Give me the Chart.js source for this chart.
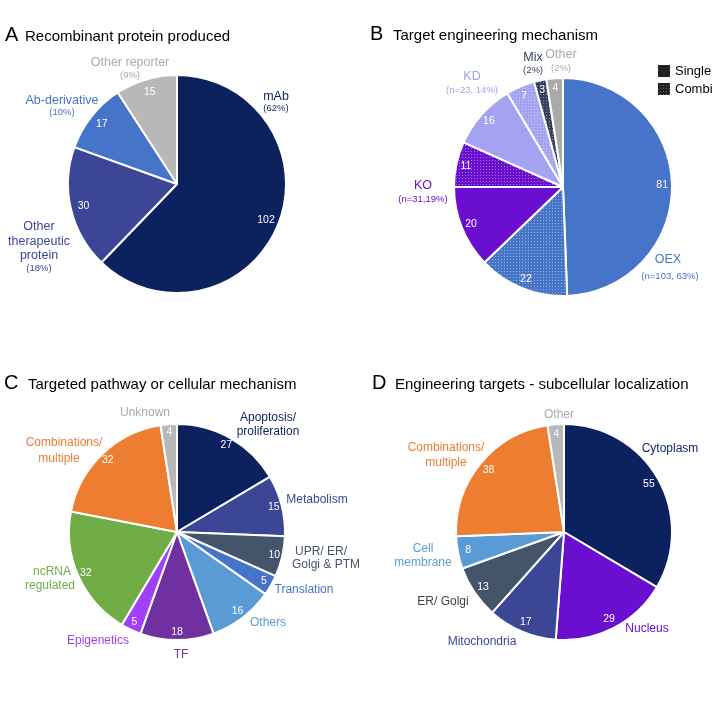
<!DOCTYPE html>
<html><head><meta charset="utf-8">
<script src="https://cdn.jsdelivr.net/npm/chart.js@4.4.1/dist/chart.umd.min.js"></script>
<style>
html,body{margin:0;padding:0;width:718px;height:718px;overflow:hidden;background:#fff;}
.q{position:absolute;width:359px;height:359px;}
</style></head><body>
<div class="q" style="left:0;top:0"><canvas id="cA" width="359" height="359"></canvas></div>
<div class="q" style="left:359px;top:0"><canvas id="cB" width="359" height="359"></canvas></div>
<div class="q" style="left:0;top:359px"><canvas id="cC" width="359" height="359"></canvas></div>
<div class="q" style="left:359px;top:359px"><canvas id="cD" width="359" height="359"></canvas></div>
<script>
// ---------------- DATA ----------------
const catA = ["mAb","Other therapeutic protein","Ab-derivative","Other reporter"];
const valA = [102,30,17,15];
const textA = [["mAb","(62%)"],["Other","therapeutic","protein","(18%)"],["Ab-derivative","(10%)"],["Other reporter","(9%)"]];

const catB = ["OEX","OEX","KO","KO","KD","KD","Mix","Other"];
const typeB = ["Single","Combi","Single","Combi","Single","Combi","Combi","Single"];
const valB = [81,22,20,11,16,7,3,4];
const textB = [["OEX","(n=103, 63%)"],["KO","(n=31,19%)"],["KD","(n=23, 14%)"],["Mix","(2%)"],["Other","(2%)"]];
const legendB = ["Single","Combi"];

const catC = ["Apoptosis/ proliferation","Metabolism","UPR/ ER/ Golgi & PTM","Translation","Others","TF","Epigenetics","ncRNA regulated","Combinations/ multiple","Unknown"];
const valC = [27,15,10,5,16,18,5,32,32,4];
const textC = [["Apoptosis/","proliferation"],["Metabolism"],["UPR/ ER/","Golgi & PTM"],["Translation"],["Others"],["TF"],["Epigenetics"],["ncRNA","regulated"],["Combinations/","multiple"],["Unknown"]];

const catD = ["Cytoplasm","Nucleus","Mitochondria","ER/ Golgi","Cell membrane","Combinations/ multiple","Other"];
const valD = [55,29,17,13,8,38,4];
const textD = [["Cytoplasm"],["Nucleus"],["Mitochondria"],["ER/ Golgi"],["Cell","membrane"],["Combinations/","multiple"],["Other"]];

const titles = [["A","Recombinant protein produced"],["B","Target engineering mechanism"],["C","Targeted pathway or cellular mechanism"],["D","Engineering targets - subcellular localization"]];

// ---------------- STYLE / LAYOUT ----------------
const FONT = '"Liberation Sans", Arial, Helvetica, sans-serif';
const NAVY="#0b225e", INDIGO="#3b4697", BLUE="#4674c9", LBLUE="#5b9bd5", SLATE="#44546a", GRAY="#b8b8b8",
      PURPLE="#6a0fcf", TFP="#7030a0", VIOLET="#a040f8", GREEN="#70ad47", ORANGE="#ed7d31", LAV="#a3a3f2", MIX="#33405c";

function dots(color, dot){
  const c=document.createElement('canvas'); c.width=3; c.height=3;
  const x=c.getContext('2d'); x.fillStyle=color; x.fillRect(0,0,3,3);
  x.fillStyle=dot||'rgba(255,255,255,0.42)'; x.fillRect(1,1,1,1);
  return x.createPattern(c,'repeat');
}

const colA = [NAVY,INDIGO,BLUE,GRAY];
const baseB = {OEX:BLUE,KO:PURPLE,KD:LAV,Mix:MIX,Other:"#aaaaaa"};
const colB = catB.map((c,i)=> typeB[i]==="Combi" ? dots(baseB[c]) : baseB[c]);
const colC = [NAVY,INDIGO,SLATE,BLUE,LBLUE,TFP,VIOLET,GREEN,ORANGE,GRAY];
const colD = [NAVY,PURPLE,INDIGO,SLATE,LBLUE,ORANGE,GRAY];

const M=12.5, P=9.5, L=12;
const layA = [
  {dx:[99,99],dy:[-87,-76],s:[M,P],c:NAVY},
  {dx:[-138,-138,-138,-138],dy:[43,57.5,72,84.5],s:[M,M,M,P],c:INDIGO},
  {dx:[-115,-115],dy:[-83,-71.5],s:[M,P],c:BLUE},
  {dx:[-47,-47],dy:[-121,-109],s:[M,P],c:"#aaaaaa"}
];
const layB = [
  {dx:[105,107],dy:[73,89],s:[M,P],c:BLUE},
  {dx:[-140,-140],dy:[-1.5,12],s:[M,P],c:PURPLE},
  {dx:[-91,-91],dy:[-110,-97],s:[M,P],c:"#a0a0ee"},
  {dx:[-30,-30],dy:[-129,-116.5],s:[M,P],c:MIX},
  {dx:[-2,-2],dy:[-132,-119],s:[M,P],c:"#aaaaaa"}
];
const layC = [
  {dx:[91,91],dy:[-114,-100.5],s:[L,L],c:NAVY},
  {dx:[140],dy:[-32],s:[L],c:INDIGO},
  {dx:[144,149],dy:[19.5,33],s:[L,L],c:SLATE},
  {dx:[127],dy:[58],s:[L],c:BLUE},
  {dx:[91],dy:[91],s:[L],c:LBLUE},
  {dx:[4],dy:[123],s:[L],c:TFP},
  {dx:[-79],dy:[109],s:[L],c:VIOLET},
  {dx:[-125,-127],dy:[40,54],s:[L,L],c:GREEN},
  {dx:[-113,-118],dy:[-89,-73],s:[L,L],c:ORANGE},
  {dx:[-32],dy:[-119],s:[L],c:"#a8a8a8"}
];
const layD = [
  {dx:[106],dy:[-83],s:[L],c:NAVY},
  {dx:[83],dy:[97],s:[L],c:PURPLE},
  {dx:[-82],dy:[110],s:[L],c:INDIGO},
  {dx:[-121],dy:[70],s:[L],c:"#3c3f4a"},
  {dx:[-141,-141],dy:[17,31],s:[L,L],c:LBLUE},
  {dx:[-118,-118],dy:[-84,-69],s:[L,L],c:ORANGE},
  {dx:[-5],dy:[-117],s:[L],c:"#a8a8a8"}
];

// quadrant-local geometry
const panels = [
  {id:"cA",cat:catA,val:valA,col:colA,text:textA,lay:layA,cx:177,cy:184,r:109,vr:0.88,title:titles[0],lx:5,tx:25,by:41},
  {id:"cB",cat:catB,val:valB,col:colB,text:textB,lay:layB,cx:204,cy:187,r:109,vr:0.91,title:titles[1],lx:11,tx:34,by:40,legend:true},
  {id:"cC",cat:catC,val:valC,col:colC,text:textC,lay:layC,cx:177,cy:173,r:108,vr:0.925,title:titles[2],lx:4,tx:28,by:29.5},
  {id:"cD",cat:catD,val:valD,col:colD,text:textD,lay:layD,cx:205,cy:173,r:108,vr:0.905,title:titles[3],lx:13,tx:36,by:29.5}
];

const decor = {
  id:'decor',
  afterDatasetsDraw(chart, args, o){
    const ctx=chart.ctx, meta=chart.getDatasetMeta(0);
    const cx=meta.data[0].x, cy=meta.data[0].y;
    ctx.save();
    ctx.textAlign='center'; ctx.textBaseline='middle';
    ctx.fillStyle='#fff'; ctx.font='10.5px '+FONT;
    meta.data.forEach((a,i)=>{
      const mid=(a.startAngle+a.endAngle)/2, rr=a.outerRadius*o.vr;
      ctx.fillText(String(chart.data.datasets[0].data[i]), cx+Math.cos(mid)*rr, cy+Math.sin(mid)*rr);
    });
    o.text.forEach((lines,i)=>{
      const l=o.lay[i]; ctx.fillStyle=l.c;
      lines.forEach((t,j)=>{ ctx.font=l.s[j]+'px '+FONT; ctx.fillText(t, cx+l.dx[j], cy+l.dy[j]); });
    });
    ctx.textAlign='left'; ctx.textBaseline='alphabetic'; ctx.fillStyle='#000';
    ctx.font='20px '+FONT; ctx.fillText(o.title[0], o.lx, o.by);
    ctx.font='15px '+FONT; ctx.fillText(o.title[1], o.tx, o.by);
    if(o.legend){
      ctx.fillStyle='#222'; ctx.fillRect(299,65,12,12);
      ctx.fillStyle=dots('#222','rgba(255,255,255,0.3)'); ctx.fillRect(299,83,12,12);
      ctx.fillStyle='#000'; ctx.font='13px '+FONT; ctx.textBaseline='middle';
      ctx.fillText(legendB[0],316,71); ctx.fillText(legendB[1],316,89.5);
    }
    ctx.restore();
  }
};

panels.forEach(p=>{
  const W=359,H=359;
  new Chart(document.getElementById(p.id),{
    type:'pie',
    data:{labels:p.cat,datasets:[{data:p.val,backgroundColor:p.col,borderColor:'#fff',borderWidth:2}]},
    options:{
      responsive:false, animation:false, radius:p.r,
      layout:{padding:{left:Math.max(0,2*p.cx-W),right:Math.max(0,W-2*p.cx),top:Math.max(0,2*p.cy-H),bottom:Math.max(0,H-2*p.cy)}},
      plugins:{legend:{display:false},tooltip:{enabled:false},title:{display:false},
        decor:{text:p.text,lay:p.lay,vr:p.vr,title:p.title,lx:p.lx,tx:p.tx,by:p.by,legend:!!p.legend}}
    },
    plugins:[decor]
  });
});
</script>
</body></html>
